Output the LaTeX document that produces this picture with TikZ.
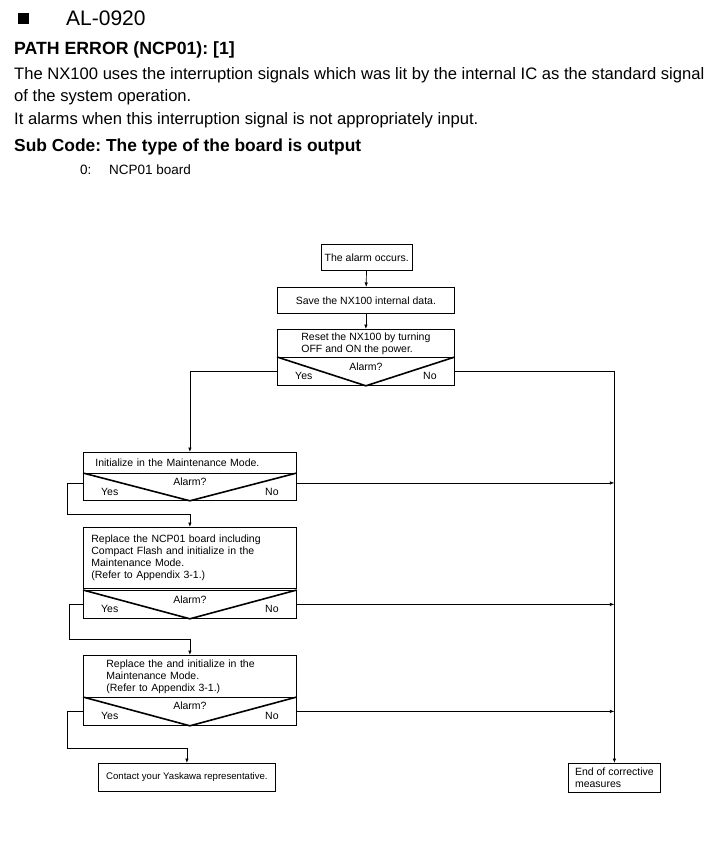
\documentclass[tikz,border=0pt]{standalone}
\usepackage{fontspec}
\setmainfont{Liberation Sans}
\usetikzlibrary{arrows.meta}
\frenchspacing

\newcommand{\flowfont}{\fontsize{10.5}{12}\selectfont}
\newcommand{\bodyfont}{\fontsize{16.6}{19}\selectfont}

\tikzset{
  procbox/.style={draw, line width=0.8pt, inner ysep=0pt, font=\flowfont, align=left, anchor=north west},
  askbox/.style={draw, line width=0.8pt, inner sep=0pt, anchor=north west},
  tri/.style={line width=1.6pt, line join=miter},
  lbl/.style={inner sep=0pt, font=\flowfont},
  flow/.style={line width=0.7pt, -{Latex[length=4.5pt,width=3.5pt]}},
  hdr/.style={inner sep=0pt, anchor=base west}
}

\begin{document}
\begin{tikzpicture}[x=1pt,y=1pt,yscale=-1,xscale=1]
\useasboundingbox (0,0) rectangle (712,845);

% Heading
\node[fill, minimum size=11, inner sep=0pt, anchor=north west] (mark) at (18,13) {};
\node[hdr, font=\fontsize{21}{24}\selectfont] (code) at (66,26) {AL-0920};
\node[hdr, font=\fontsize{17.7}{20}\selectfont\bfseries] (title) at (14,55) {PATH ERROR (NCP01): [1]};
\node[hdr, font=\bodyfont] (body1) at (14,80) {The NX100 uses the interruption signals which was lit by the internal IC as the standard signal};
\node[hdr, font=\bodyfont] (body2) at (14,102) {of the system operation.};
\node[hdr, font=\bodyfont] (body3) at (14,125) {It alarms when this interruption signal is not appropriately input.};
\node[hdr, font=\fontsize{17.4}{20}\selectfont\bfseries] (sub) at (14,152) {Sub Code: The type of the board is output};
\node[hdr, font=\fontsize{13.5}{16}\selectfont] (subno) at (80,175) {0:};
\node[hdr, font=\fontsize{13.5}{16}\selectfont] (subtxt) at (109,175) {NCP01 board};

%Shape: top boxes
\node[procbox, minimum width=89, minimum height=26] (occurs) at (321,244) {The alarm occurs.};
\node[procbox, minimum width=177, minimum height=26] (save) at (277,287) {Save the NX100 internal data.};
\node[procbox, minimum width=177, minimum height=28] (reset) at (277,329) {Reset the NX100 by turning\\OFF and ON the power.};
\node[askbox, minimum width=177, minimum height=28] (dec1) at (277,357) {};

%Shape: left column
\node[procbox, minimum width=213, minimum height=21, text width=189, inner xsep=12] (init) at (83,452) {Initialize in the Maintenance Mode.};
\node[askbox, minimum width=213, minimum height=27] (dec2) at (83,473) {};
\node[procbox, minimum width=213, minimum height=61, text width=197, inner xsep=8] (board) at (83,527) {Replace the NCP01 board including\\Compact Flash and initialize in the\\Maintenance Mode.\\(Refer to Appendix 3-1.)};
\node[askbox, minimum width=213, minimum height=28] (dec3) at (83,590) {};
\node[procbox, minimum width=213, minimum height=42, text width=167, inner xsep=23] (other) at (83,655) {Replace the and initialize in the\\Maintenance Mode.\\(Refer to Appendix 3-1.)};
\node[askbox, minimum width=213, minimum height=28] (dec4) at (83,697) {};
\node[procbox, minimum width=177, minimum height=28, font=\fontsize{9.6}{12}\selectfont] (contact) at (98,763) {Contact your Yaskawa representative.};
\node[procbox, minimum width=92, minimum height=29] (finish) at (568,763) {End of corrective\\measures};

%Shape: decision triangles and labels
\foreach \d/\t in {dec1/10, dec2/9, dec3/10, dec4/9} {
  \draw[tri] (\d.north west) -- (\d.south) -- (\d.north east);
  \node[lbl] (\d-ask) at ([yshift=\t pt]\d.north) {Alarm?};
  \node[lbl, anchor=west] (\d-yes) at ([xshift=18pt,yshift=19pt]\d.north west) {Yes};
  \node[lbl, anchor=east] (\d-no) at ([xshift=-18pt,yshift=19pt]\d.north east) {No};
}

% Bends of the Yes lines
\coordinate (bend2) at (67,514);
\coordinate (bend3) at (69,639);
\coordinate (bend4) at (67,748);

%Straight Lines: main flow
\draw[flow] (occurs) -- (save);
\draw[flow] (save) -- (reset);
\draw[flow] (dec1.west) -| (init.north);
\draw[flow] ([yshift=-4pt]dec2.west) -| (bend2) -| (board.north);
\draw[flow] (dec3.west) -| (bend3) -| (other.north);
\draw[flow] (dec4.west) -| (bend4) -| (contact.north);

%Straight Lines: No branch
\draw[flow] (dec1.east) -| (finish.north);
\draw[flow] ([yshift=-4pt]dec2.east) -- ([yshift=-4pt]dec2.east -| finish.north);
\draw[flow] (dec3.east) -- (dec3.east -| finish.north);
\draw[flow] (dec4.east) -- (dec4.east -| finish.north);

\end{tikzpicture}
\end{document}
